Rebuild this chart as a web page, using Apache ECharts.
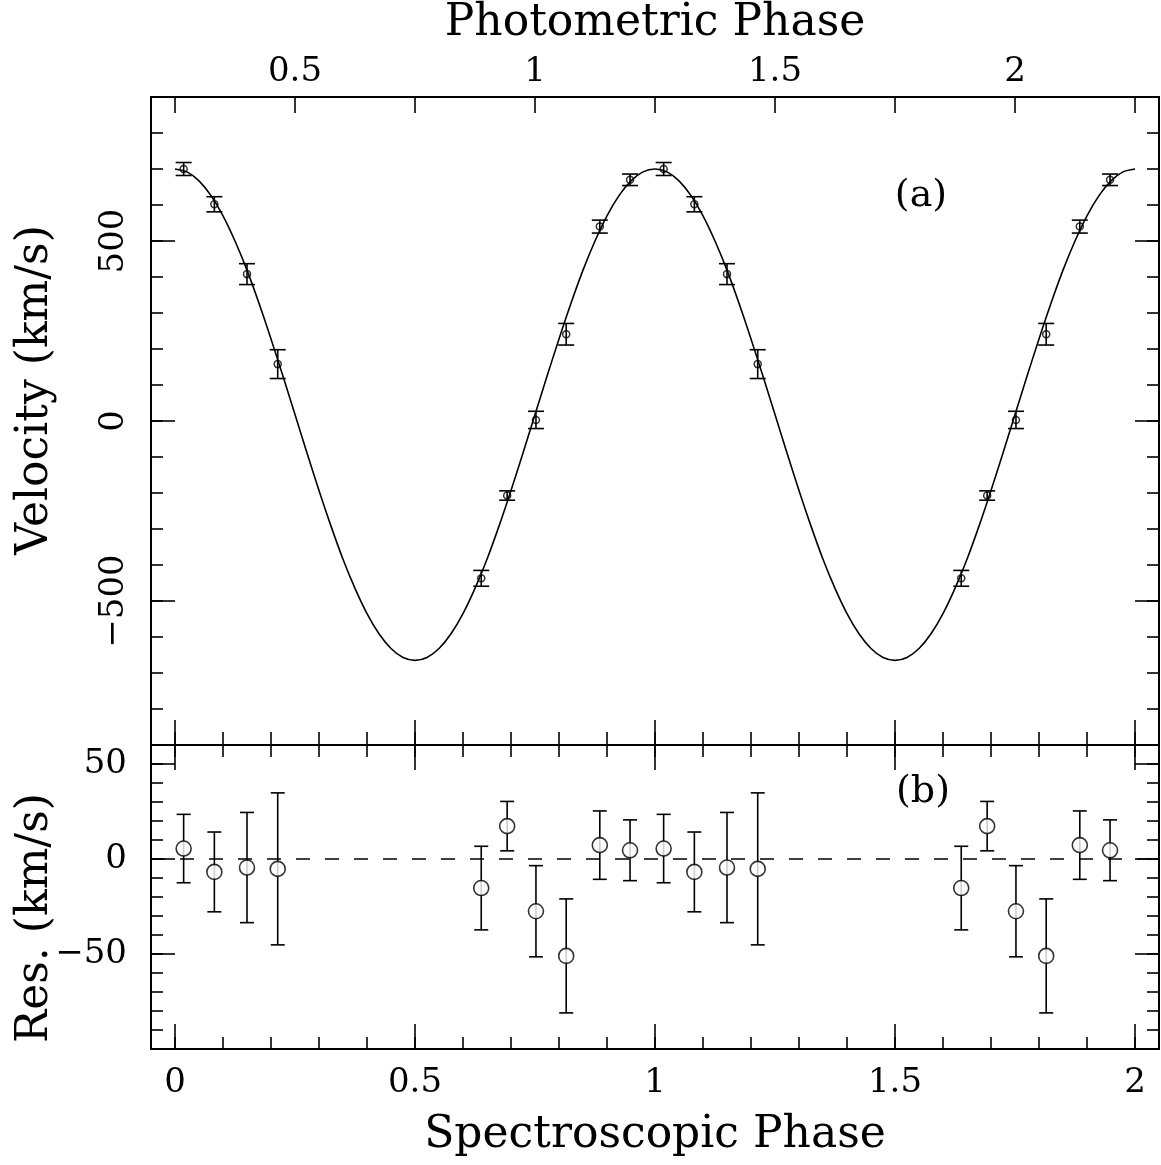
<!DOCTYPE html>
<html>
<head>
<meta charset="utf-8">
<script src="https://cdn.jsdelivr.net/npm/echarts@6/dist/echarts.min.js"></script>
<style>
  html, body { margin: 0; padding: 0; background: #fff; }
  #main { width: 1161px; height: 1165px; }
</style>
</head>
<body>
<div id="main"></div>
<script>
// measured points (spectroscopic phase, one cycle) - plotted again at phase + 1
var phase = [0.018, 0.082, 0.150, 0.214, 0.638, 0.692, 0.752, 0.815, 0.885, 0.948];
var velocity = [700, 602, 408, 158, -437, -207, 3, 241, 540, 670];
var velErr = [18, 21, 29, 40, 22, 13, 24, 30, 18, 16];
var resid = [5.5, -6.8, -4.5, -5.2, -15.3, 17.3, -27.5, -51, 7.3, 4.6];

// fitted curve read every 0.025 in phase over one cycle
var curvePhase = [0, 0.025, 0.05, 0.075, 0.1, 0.125, 0.15, 0.175, 0.2, 0.225,
  0.25, 0.275, 0.3, 0.325, 0.35, 0.375, 0.4, 0.425, 0.45, 0.475,
  0.5, 0.525, 0.55, 0.575, 0.6, 0.625, 0.65, 0.675, 0.7, 0.725,
  0.75, 0.775, 0.8, 0.825, 0.85, 0.875, 0.9, 0.925, 0.95, 0.975, 1];
var curveVel = [700, 692, 667, 626, 570, 500, 419, 327, 228, 124,
  18, -89, -193, -292, -384, -465, -535, -591, -632, -657,
  -665, -657, -632, -591, -535, -465, -384, -292, -193, -89,
  18, 124, 228, 327, 419, 500, 570, 626, 667, 692, 700];

// tick positions
var phaseMajor = [0, 0.5, 1, 1.5, 2];
var phaseMinor = [0, 0.1, 0.2, 0.3, 0.4, 0.5, 0.6, 0.7, 0.8, 0.9, 1,
  1.1, 1.2, 1.3, 1.4, 1.5, 1.6, 1.7, 1.8, 1.9, 2];
var photTicks = [0.25, 0.5, 0.75, 1, 1.25, 1.5, 1.75, 2, 2.25];
var photLabels = [0.5, 1, 1.5, 2];
var velMajor = [-500, 0, 500];
var velMinor = [-800, -700, -600, -500, -400, -300, -200, -100, 0,
  100, 200, 300, 400, 500, 600, 700, 800];
var resMajor = [-50, 0, 50];
var resMinor = [-90, -80, -70, -60, -50, -40, -30, -20, -10, 0, 10, 20, 30, 40, 50];

var FONT = '"DejaVu Serif", "Liberation Serif", serif';

// build plotted data (two cycles)
var curveData = [];
for (var i = 0; i < curvePhase.length; i++) curveData.push([curvePhase[i], curveVel[i]]);
for (i = 1; i < curvePhase.length; i++) curveData.push([curvePhase[i] + 1, curveVel[i]]);

var velPts = [], velBars = [], resPts = [], resBars = [];
for (var k = 0; k < 2; k++) {
  for (i = 0; i < phase.length; i++) {
    var x = phase[i] + k;
    velPts.push([x, velocity[i]]);
    velBars.push([x, velocity[i] - velErr[i], velocity[i] + velErr[i]]);
    resPts.push([x, resid[i]]);
    resBars.push([x, resid[i] - velErr[i], resid[i] + velErr[i]]);
  }
}

function minus(v) {
  return String(v).replace('-', '\u2212');
}

// an axis that only draws its line and inward ticks
function tickAxis(grid, pos, min, max, ticks, len) {
  return {
    type: 'value', gridIndex: grid, position: pos, min: min, max: max,
    axisLine: { show: true, onZero: false, lineStyle: { color: '#000', width: 2 } },
    axisTick: { show: true, inside: true, length: len, customValues: ticks,
      lineStyle: { color: '#000', width: 1.6 } },
    axisLabel: { show: false },
    splitLine: { show: false }
  };
}

function errorBars(cap) {
  return function (params, api) {
    var x = api.value(0);
    var lo = api.coord([x, api.value(1)]);
    var hi = api.coord([x, api.value(2)]);
    var st = { stroke: '#000', lineWidth: 1.6 };
    return {
      type: 'group',
      children: [
        { type: 'line', shape: { x1: lo[0], y1: lo[1], x2: hi[0], y2: hi[1] }, style: st },
        { type: 'line', shape: { x1: lo[0] - cap, y1: lo[1], x2: lo[0] + cap, y2: lo[1] }, style: st },
        { type: 'line', shape: { x1: hi[0] - cap, y1: hi[1], x2: hi[0] + cap, y2: hi[1] }, style: st }
      ]
    };
  };
}

// axes
var xTopMain = tickAxis(0, 'bottom', -0.05, 2.05, phaseMajor, 25);
var xTopMinor = tickAxis(0, 'bottom', -0.05, 2.05, phaseMinor, 13);
var xPhot = tickAxis(0, 'top', 0.2, 2.3, photTicks, 16);
xPhot.axisLabel = { show: true, customValues: photLabels, margin: 8,
  fontFamily: FONT, fontSize: 34, color: '#000' };
xPhot.name = 'Photometric Phase';
xPhot.nameLocation = 'middle';
xPhot.nameGap = 51;
xPhot.nameTextStyle = { fontFamily: FONT, fontSize: 44, color: '#000' };

var xBotMain = tickAxis(1, 'bottom', -0.05, 2.05, phaseMajor, 25);
xBotMain.axisLabel = { show: true, customValues: phaseMajor, margin: 17,
  fontFamily: FONT, fontSize: 34, color: '#000' };
xBotMain.name = 'Spectroscopic Phase';
xBotMain.nameLocation = 'middle';
xBotMain.nameGap = 65;
xBotMain.nameTextStyle = { fontFamily: FONT, fontSize: 44, color: '#000' };
var xBotMinor = tickAxis(1, 'bottom', -0.05, 2.05, phaseMinor, 12);
var xBotTop = tickAxis(1, 'top', -0.05, 2.05, phaseMajor, 25);
var xBotTopMinor = tickAxis(1, 'top', -0.05, 2.05, phaseMinor, 12);

var yVel = tickAxis(0, 'left', -900, 900, velMajor, 24);
yVel.axisLabel = { show: true, customValues: velMajor, rotate: 90, margin: 20,
  fontFamily: FONT, fontSize: 34, color: '#000', formatter: minus };
var yVelMinor = tickAxis(0, 'left', -900, 900, velMinor, 12);
var yVelR = tickAxis(0, 'right', -900, 900, velMajor, 24);
var yVelRMinor = tickAxis(0, 'right', -900, 900, velMinor, 12);

var yRes = tickAxis(1, 'left', -100, 60, resMajor, 24);
yRes.axisLabel = { show: true, customValues: resMajor, margin: 24,
  fontFamily: FONT, fontSize: 34, color: '#000', formatter: minus };
var yResMinor = tickAxis(1, 'left', -100, 60, resMinor, 12);
var yResR = tickAxis(1, 'right', -100, 60, resMajor, 24);
var yResRMinor = tickAxis(1, 'right', -100, 60, resMinor, 12);

var myChart = echarts.init(document.getElementById('main'));
myChart.setOption({
  animation: false,
  backgroundColor: '#fff',
  grid: [
    { left: 151, top: 97, width: 1008, height: 648, outerBoundsMode: 'none' },
    { left: 151, top: 745, width: 1008, height: 304, outerBoundsMode: 'none' }
  ],
  xAxis: [xTopMain, xTopMinor, xPhot, xBotMain, xBotMinor, xBotTop, xBotTopMinor],
  yAxis: [yVel, yVelMinor, yVelR, yVelRMinor, yRes, yResMinor, yResR, yResRMinor],
  graphic: [
    { type: 'text', x: 36, y: 390, rotation: Math.PI / 2,
      style: { text: 'Velocity (km/s)', font: '44px ' + FONT, fill: '#000',
        textAlign: 'center', textVerticalAlign: 'middle' } },
    { type: 'text', x: 36, y: 918, rotation: Math.PI / 2,
      style: { text: 'Res. (km/s)', font: '44px ' + FONT, fill: '#000',
        textAlign: 'center', textVerticalAlign: 'middle' } },
    { type: 'text', x: 921, y: 196,
      style: { text: '(a)', font: '38px ' + FONT, fill: '#000',
        textAlign: 'center', textVerticalAlign: 'middle' } },
    { type: 'text', x: 923, y: 792,
      style: { text: '(b)', font: '38px ' + FONT, fill: '#000',
        textAlign: 'center', textVerticalAlign: 'middle' } }
  ],
  series: [
    {
      name: 'fit', type: 'line', xAxisIndex: 0, yAxisIndex: 0,
      data: curveData, showSymbol: false, smooth: 0.3,
      lineStyle: { color: '#000', width: 1.6 }
    },
    {
      name: 'velocity errors', type: 'custom', xAxisIndex: 0, yAxisIndex: 0,
      data: velBars, encode: { x: 0, y: [1, 2] }, renderItem: errorBars(8), z: 3
    },
    {
      name: 'velocity', type: 'scatter', xAxisIndex: 0, yAxisIndex: 0,
      data: velPts, symbol: 'circle', symbolSize: 7, z: 4,
      itemStyle: { color: 'rgba(0,0,0,0)', borderColor: '#000', borderWidth: 1.5 }
    },
    {
      name: 'residual errors', type: 'custom', xAxisIndex: 3, yAxisIndex: 4,
      data: resBars, encode: { x: 0, y: [1, 2] }, renderItem: errorBars(7), z: 3
    },
    {
      name: 'residuals', type: 'scatter', xAxisIndex: 3, yAxisIndex: 4,
      data: resPts, symbol: 'circle', symbolSize: 15, z: 4,
      itemStyle: { color: '#fff', borderColor: '#000', borderWidth: 1.6 },
      markLine: {
        silent: true, symbol: ['none', 'none'], label: { show: false },
        lineStyle: { color: '#000', width: 1.6, type: [14, 15] },
        data: [{ yAxis: 0 }]
      }
    }
  ]
});
</script>
</body>
</html>
